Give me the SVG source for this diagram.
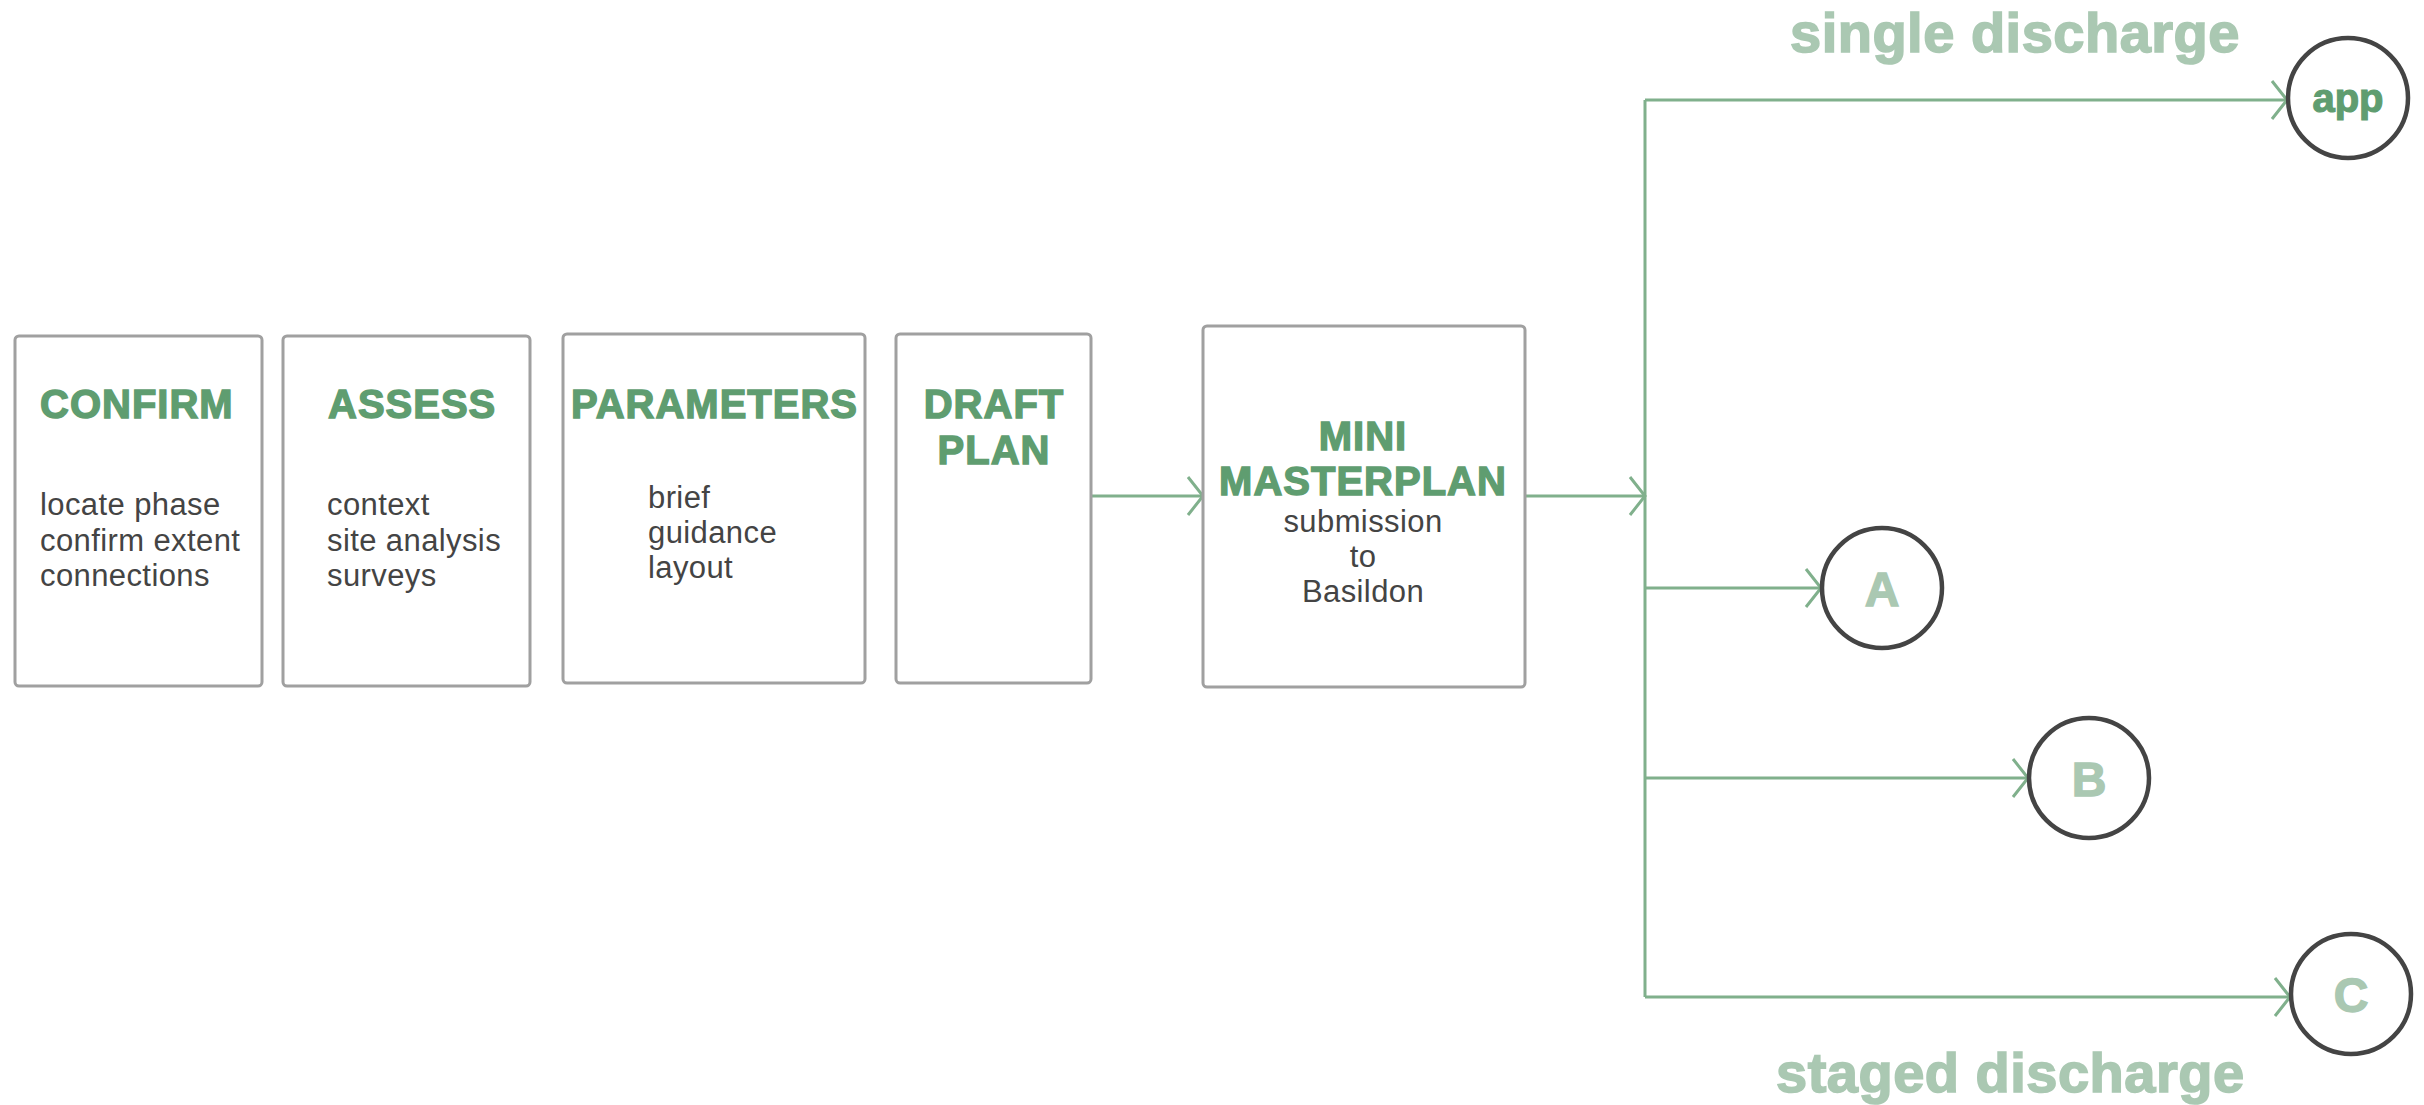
<svg xmlns="http://www.w3.org/2000/svg" width="2424" height="1105" viewBox="0 0 2424 1105">
<style>
.box{fill:#fff;stroke:#a0a0a0;stroke-width:3}
.head{font-family:"Liberation Sans",Arial,sans-serif;font-weight:bold;font-size:40px;fill:#5f9d70;stroke:#5f9d70;stroke-width:1.4;letter-spacing:1px}
.body{font-family:"Liberation Sans",Arial,sans-serif;font-size:31px;fill:#444;letter-spacing:0.4px}
.conn{fill:none;stroke:#80b08c;stroke-width:3}
.circ{fill:#fff;stroke:#444;stroke-width:4.5}
.lbl{font-family:"Liberation Sans",Arial,sans-serif;font-weight:bold;font-size:48px;fill:#aac8b2;stroke:#aac8b2;stroke-width:1.4;text-anchor:middle}
.cap{font-family:"Liberation Sans",Arial,sans-serif;font-weight:bold;font-size:56px;fill:#aac8b2;stroke:#aac8b2;stroke-width:1.6;letter-spacing:0.5px}
</style>
<defs>
<marker id="chev" viewBox="-20 -24 24 48" refX="0" refY="0" markerWidth="24" markerHeight="48" markerUnits="userSpaceOnUse" orient="auto">
<path d="M-15,-19 L0,0 L-15,19" fill="none" stroke="#80b08c" stroke-width="3"/>
</marker>
</defs>
<rect width="2424" height="1105" fill="#fff"/>

<g id="connectors">
<line class="conn" x1="1091" y1="496" x2="1203" y2="496" marker-end="url(#chev)"/>
<line class="conn" x1="1525" y1="496" x2="1645" y2="496" marker-end="url(#chev)"/>
<line class="conn" x1="1645" y1="100" x2="1645" y2="997"/>
<line class="conn" x1="1645" y1="100" x2="2287" y2="100" marker-end="url(#chev)"/>
<line class="conn" x1="1645" y1="588" x2="1821" y2="588" marker-end="url(#chev)"/>
<line class="conn" x1="1645" y1="778" x2="2028" y2="778" marker-end="url(#chev)"/>
<line class="conn" x1="1645" y1="997" x2="2290" y2="997" marker-end="url(#chev)"/>
</g>

<g id="confirm">
<rect class="box" x="15" y="336" width="247" height="350" rx="4"/>
<text class="head" x="40" y="418">CONFIRM</text>
<text class="body" x="40" y="515">locate phase</text>
<text class="body" x="40" y="551">confirm extent</text>
<text class="body" x="40" y="586">connections</text>
</g>

<g id="assess">
<rect class="box" x="283" y="336" width="247" height="350" rx="4"/>
<text class="head" x="328" y="418">ASSESS</text>
<text class="body" x="327" y="515">context</text>
<text class="body" x="327" y="551">site analysis</text>
<text class="body" x="327" y="586">surveys</text>
</g>

<g id="parameters">
<rect class="box" x="563" y="334" width="302" height="349" rx="4"/>
<text class="head" x="571" y="418">PARAMETERS</text>
<text class="body" x="648" y="508">brief</text>
<text class="body" x="648" y="543">guidance</text>
<text class="body" x="648" y="578">layout</text>
</g>

<g id="draft-plan">
<rect class="box" x="896" y="334" width="195" height="349" rx="4"/>
<text class="head" x="994" y="418" text-anchor="middle">DRAFT</text>
<text class="head" x="994" y="464" text-anchor="middle">PLAN</text>
</g>

<g id="mini-masterplan">
<rect class="box" x="1203" y="326" width="322" height="361" rx="4"/>
<text class="head" x="1363" y="450" text-anchor="middle">MINI</text>
<text class="head" x="1363" y="495" text-anchor="middle">MASTERPLAN</text>
<text class="body" x="1363" y="532" text-anchor="middle">submission</text>
<text class="body" x="1363" y="567" text-anchor="middle">to</text>
<text class="body" x="1363" y="602" text-anchor="middle">Basildon</text>
</g>

<g id="app">
<circle class="circ" cx="2348" cy="98" r="60"/>
<text x="2348" y="112" text-anchor="middle" font-family="Liberation Sans, Arial, sans-serif" font-weight="bold" font-size="40" fill="#5f9d70" stroke="#5f9d70" stroke-width="1.2">app</text>
</g>

<g id="node-a">
<circle class="circ" cx="1882" cy="588" r="60"/>
<text class="lbl" x="1882" y="606">A</text>
</g>

<g id="node-b">
<circle class="circ" cx="2089" cy="778" r="60"/>
<text class="lbl" x="2089" y="796">B</text>
</g>

<g id="node-c">
<circle class="circ" cx="2351" cy="994" r="60"/>
<text class="lbl" x="2351" y="1012">C</text>
</g>

<text class="cap" x="1790" y="52">single discharge</text>
<text class="cap" x="1776" y="1092">staged discharge</text>
</svg>
